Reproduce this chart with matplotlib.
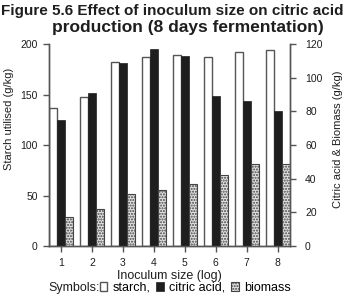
import matplotlib
matplotlib.use("Agg")
import matplotlib.pyplot as plt
import numpy as np

plt.rcParams['font.family'] = ['Liberation Sans', 'DejaVu Sans']

# values
inoculum = [1, 2, 3, 4, 5, 6, 7, 8]
starch = [137, 148, 182, 187, 189, 187, 192, 194]          # g/kg, left axis
citric_acid = [75, 91, 109, 117, 113, 89, 86, 80]         # g/kg, right axis
biomass = [17, 22, 31, 33, 37, 42, 49, 48.5]              # g/kg, right axis

x = np.array(inoculum)
w = 0.26
ink = '#1e1e1e'

fig = plt.figure(figsize=(3.44, 3.0), dpi=100)
ax = fig.add_axes([0.1424, 0.18, 0.7, 0.6733])
ax2 = ax.twinx()

b1 = ax.bar(x - w, starch, width=w, color='white', edgecolor='#555555', linewidth=1.0)
b2 = ax2.bar(x, citric_acid, width=w, color=ink, edgecolor=ink, linewidth=0.5)
b3 = ax2.bar(x + w, biomass, width=w, color='#e2e2e2', edgecolor='#444444',
             linewidth=0.8, hatch='......')

ax.set_xlim(1 - 1.5 * w, 8 + 1.5 * w)
ax.set_ylim(0, 200)
ax2.set_ylim(0, 120)
ax.set_xticks(inoculum)
ax.set_yticks([0, 50, 100, 150, 200])
ax2.set_yticks([0, 20, 40, 60, 80, 100, 120])

for a in (ax, ax2):
    a.spines['top'].set_visible(False)
    for s in a.spines.values():
        s.set_color('#555555')
        s.set_linewidth(1.0)
    a.tick_params(length=4, width=1.0, color='#555555', labelsize=7.5, labelcolor=ink)
ax.tick_params(axis='y', pad=4)
ax2.tick_params(axis='y', pad=7)
ax.tick_params(axis='x', pad=5)

ax.set_ylabel('Starch utilised (g/kg)', fontsize=8, color=ink)
ax.yaxis.set_label_coords(-0.145, 0.63)
ax2.set_ylabel('Citric acid & Biomass (g/kg)', fontsize=8, color=ink)
ax2.yaxis.set_label_coords(1.18, 0.53)
ax.set_xlabel('Inoculum size (log)', fontsize=9, color=ink, labelpad=1)

# first title line shrunk a little so it fits on the page
fig.text(0.5, 0.965, 'Figure 5.6 Effect of inoculum size on citric acid',
         ha='center', va='center', fontsize=11.0, fontweight='bold', color=ink)
fig.text(0.547, 0.908, 'production (8 days fermentation)',
         ha='center', va='center', fontsize=12.5, fontweight='bold', color=ink)

fig.text(0.14, 0.04, 'Symbols:', ha='left', va='center', fontsize=9, color=ink)
fig.legend([b1, b2, b3], ['starch,', 'citric acid,', 'biomass'],
           loc='center left', bbox_to_anchor=(0.29, 0.04), ncol=3, frameon=False,
           fontsize=9, handlelength=0.6, handleheight=0.7, handletextpad=0.4,
           columnspacing=0.5, borderpad=0, borderaxespad=0)

fig.savefig('out.png', dpi=100)
